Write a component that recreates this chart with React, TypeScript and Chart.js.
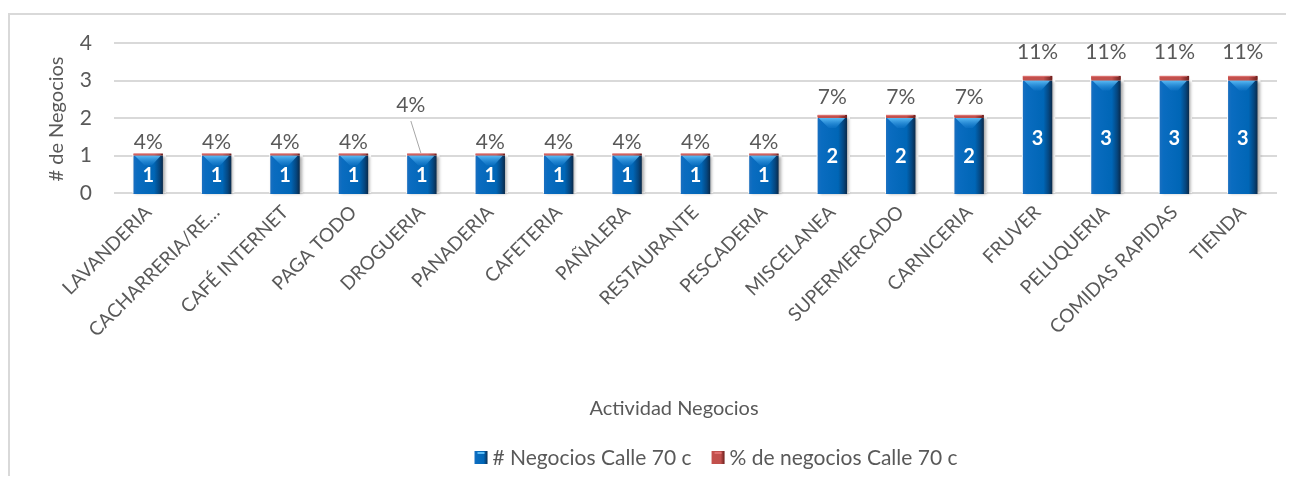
import React, { useEffect, useRef } from 'react';
import { Chart, registerables } from 'chart.js';

Chart.register(...registerables);

const categories = [
  'LAVANDERIA', 'CACHARRERIA/RE…', 'CAFÉ INTERNET', 'PAGA TODO', 'DROGUERIA',
  'PANADERIA', 'CAFETERIA', 'PAÑALERA', 'RESTAURANTE', 'PESCADERIA',
  'MISCELANEA', 'SUPERMERCADO', 'CARNICERIA', 'FRUVER', 'PELUQUERIA',
  'COMIDAS RAPIDAS', 'TIENDA',
];
const negocios = [1, 1, 1, 1, 1, 1, 1, 1, 1, 1, 2, 2, 2, 3, 3, 3, 3];
const porcentaje = [0.04, 0.04, 0.04, 0.04, 0.04, 0.04, 0.04, 0.04, 0.04, 0.04, 0.07, 0.07, 0.07, 0.11, 0.11, 0.11, 0.11];
const seriesNames = ['# Negocios Calle 70 c', '% de negocios Calle 70 c'];
const xTitle = 'Actividad Negocios';
const yTitle = '# de Negocios';

const FONT = 'Lato, "Open Sans", sans-serif';
const TEXT = '#595959';
const W = 1286;
const H = 468;

function blueGrad(ctx: CanvasRenderingContext2D, l: number, r: number) {
  const g = ctx.createLinearGradient(l, 0, r, 0);
  g.addColorStop(0, '#1a6fc0');
  g.addColorStop(0.12, '#0a6cc0');
  g.addColorStop(0.7, '#0066b6');
  g.addColorStop(0.88, '#05467f');
  g.addColorStop(1, '#0a2a4a');
  return g;
}
function redGrad(ctx: CanvasRenderingContext2D, l: number, r: number) {
  const g = ctx.createLinearGradient(l, 0, r, 0);
  g.addColorStop(0, '#c4504c');
  g.addColorStop(0.7, '#c0504d');
  g.addColorStop(1, '#6e1f1d');
  return g;
}

const decor = {
  id: 'decor',
  beforeDraw(chart: any) {
    const ctx = chart.ctx;
    ctx.save();
    ctx.fillStyle = '#d9d9d9';
    ctx.fillRect(0, 5, W, 2);
    ctx.fillRect(0, 5, 2, H);
    ctx.restore();
  },
  afterDatasetsDraw(chart: any) {
    const ctx: CanvasRenderingContext2D = chart.ctx;
    const m0 = chart.getDatasetMeta(0);
    const m1 = chart.getDatasetMeta(1);
    m0.data.forEach((el: any, i: number) => {
      const { x, y, base, width } = el.getProps(['x', 'y', 'base', 'width'], true);
      const l = x - width / 2;
      const r = x + width / 2;
      ctx.save();
      ctx.fillStyle = '#ffffff';
      ctx.fillRect(l - 1, y - 1, width + 4, base - y + 2);
      ctx.shadowColor = 'rgba(0,0,0,0.35)';
      ctx.shadowBlur = 3;
      ctx.shadowOffsetX = 2;
      ctx.fillStyle = blueGrad(ctx, l, r);
      ctx.fillRect(l, y, width, base - y + 2);
      ctx.restore();
      // top bevel
      ctx.save();
      const g = ctx.createLinearGradient(0, y, 0, y + 10);
      g.addColorStop(0, '#5cbcf5');
      g.addColorStop(1, 'rgba(40,140,220,0.2)');
      ctx.fillStyle = g;
      ctx.beginPath();
      ctx.moveTo(l + 1, y);
      ctx.lineTo(r - 2, y);
      ctx.lineTo(x + width * 0.12, y + 10);
      ctx.lineTo(x - width * 0.12, y + 10);
      ctx.closePath();
      ctx.fill();
      ctx.restore();
      // red cap
      const e1: any = m1.data[i];
      const p1 = e1.getProps(['y', 'base'], true);
      ctx.save();
      ctx.fillStyle = redGrad(ctx, l, r);
      ctx.fillRect(l, p1.y - 0.5, width, p1.base - p1.y + 0.5);
      ctx.fillStyle = 'rgba(240,140,140,0.6)';
      ctx.fillRect(l, p1.y - 0.5, width - 2, 1);
      ctx.restore();
      // value label
      ctx.save();
      ctx.fillStyle = '#ffffff';
      ctx.font = `bold 20px ${FONT}`;
      ctx.textAlign = 'center';
      ctx.textBaseline = 'middle';
      ctx.fillText(String(negocios[i]), x, (y + base) / 2 + 2);
      ctx.restore();
      // percent label
      const v = negocios[i];
      const txt = Math.round(porcentaje[i] * 100) + '%';
      ctx.save();
      ctx.fillStyle = TEXT;
      ctx.font = `21px ${FONT}`;
      ctx.textAlign = 'center';
      ctx.textBaseline = 'middle';
      const top = p1.y;
      if (i === 4) {
        ctx.fillText(txt, x - 11, top - 49);
        ctx.strokeStyle = '#a6a6a6';
        ctx.lineWidth = 1;
        ctx.beginPath();
        ctx.moveTo(x - 11, top - 33);
        ctx.lineTo(x - 1, top - 1);
        ctx.stroke();
      } else {
        ctx.fillText(txt, x, top - (6 + 6 * v));
      }
      ctx.restore();
    });
  },
  afterDraw(chart: any) {
    const ctx: CanvasRenderingContext2D = chart.ctx;
    ctx.save();
    ctx.fillStyle = TEXT;
    ctx.font = `20px ${FONT}`;
    ctx.textAlign = 'center';
    ctx.textBaseline = 'middle';
    ctx.fillText(xTitle, 666, 401);
    ctx.save();
    ctx.translate(49, 111);
    ctx.rotate(-Math.PI / 2);
    ctx.fillText(yTitle, 0, 0);
    ctx.restore();
    // legend
    ctx.font = `21px ${FONT}`;
    ctx.textAlign = 'left';
    const box = 13;
    const gap = 5;
    const itemGap = 20;
    const w0 = ctx.measureText(seriesNames[0]).width;
    const w1 = ctx.measureText(seriesNames[1]).width;
    const total = box + gap + w0 + itemGap + box + gap + w1;
    let lx = 708 - total / 2;
    const ly = 449;
    ctx.fillStyle = blueGrad(ctx, lx, lx + box);
    ctx.fillRect(lx, ly - 6, box, box);
    ctx.fillStyle = '#5cbcf5';
    ctx.fillRect(lx + 3, ly - 5, 7, 2);
    ctx.fillStyle = TEXT;
    ctx.fillText(seriesNames[0], lx + box + gap, ly + 1);
    lx += box + gap + w0 + itemGap;
    ctx.fillStyle = redGrad(ctx, lx, lx + box);
    ctx.fillRect(lx, ly - 6, box, box);
    ctx.fillStyle = '#e07070';
    ctx.fillRect(lx + 3, ly - 5, 7, 2);
    ctx.fillStyle = TEXT;
    ctx.fillText(seriesNames[1], lx + box + gap, ly + 1);
    ctx.restore();
  },
};

export default function App() {
  const ref = useRef<HTMLCanvasElement>(null);
  useEffect(() => {
    if (!ref.current) return;
    document.documentElement.style.overflow = 'hidden';
    const chart = new Chart(ref.current, {
      type: 'bar',
      data: {
        labels: categories,
        datasets: [
          { label: seriesNames[0], data: negocios, backgroundColor: '#0070c0', barPercentage: 0.43, categoryPercentage: 1 },
          { label: seriesNames[1], data: porcentaje, backgroundColor: '#c0504d', barPercentage: 0.43, categoryPercentage: 1 },
        ],
      },
      options: {
        responsive: false,
        animation: false,
        layout: { padding: { top: 35, right: 17, left: 0, bottom: 0 } },
        plugins: { legend: { display: false }, tooltip: { enabled: false } },
        scales: {
          x: {
            stacked: true,
            grid: { display: false },
            border: { display: false },
            ticks: {
              minRotation: 45,
              maxRotation: 45,
              autoSkip: false,
              color: TEXT,
              font: { family: FONT, size: 19 },
              padding: 0,
            },
            afterFit(s: any) { s.height = H - 185; },
          },
          y: {
            stacked: true,
            min: 0,
            max: 4,
            ticks: { stepSize: 1, color: TEXT, font: { family: FONT, size: 21 }, padding: 22 },
            grid: { color: '#d9d9d9', lineWidth: 2, drawTicks: false },
            border: { display: false },
            afterFit(s: any) { s.width = 106; },
          },
        },
      },
      plugins: [decor],
    });
    return () => chart.destroy();
  }, []);
  return <canvas ref={ref} width={W} height={H} style={{ display: 'block', width: W, height: H }} />;
}
